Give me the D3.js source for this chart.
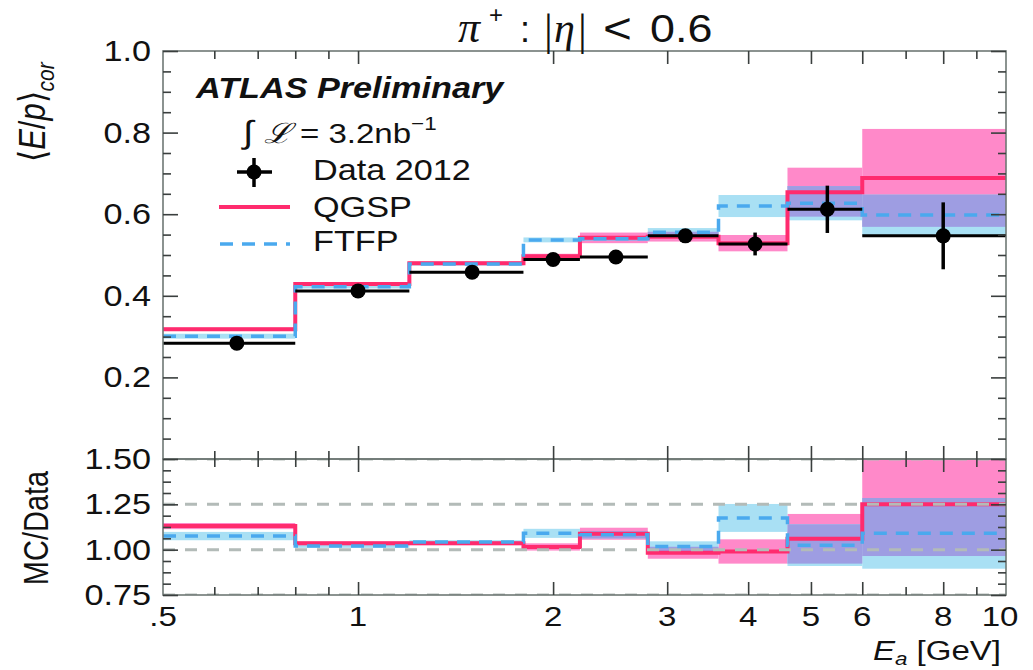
<!DOCTYPE html>
<html><head><meta charset="utf-8">
<script src="https://cdn.jsdelivr.net/npm/d3@7"></script>
<style>body{margin:0;background:#fff}svg{display:block}</style>
</head><body>
<svg id="c" width="1033" height="670"></svg>
<script>
// ---------- data ----------
const binEdges = [0.5, 0.8, 1.2, 1.8, 2.2, 2.8, 3.6, 4.6, 6, 10];
const dataX    = [0.65, 1.0, 1.5, 2.0, 2.5, 3.2, 4.1, 5.3, 8.0];
const dataY    = [0.284, 0.412, 0.458, 0.489, 0.495, 0.547, 0.527, 0.612, 0.547];
const dataErr  = [0.004, 0.004, 0.004, 0.004, 0.004, 0.006, 0.028, 0.058, 0.082];
const qgsp     = [0.318, 0.429, 0.480, 0.497, 0.542, 0.545, 0.529, 0.654, 0.689];
const qgspErr  = [0.004, 0.004, 0.004, 0.006, 0.013, 0.012, 0.020, 0.060, 0.120];
const ftfp     = [0.301, 0.422, 0.478, 0.537, 0.540, 0.556, 0.620, 0.627, 0.598];
const ftfpErr  = [0.006, 0.004, 0.004, 0.006, 0.005, 0.010, 0.027, 0.042, 0.050];
const qgspRatio    = [1.130, 1.035, 1.035, 1.015, 1.088, 0.983, 0.990, 1.060, 1.250];
const qgspRatioErr = [0.017, 0.010, 0.010, 0.020, 0.033, 0.033, 0.067, 0.137, 0.285];
const ftfpRatio    = [1.075, 1.020, 1.042, 1.090, 1.082, 1.018, 1.175, 1.025, 1.090];
const ftfpRatioErr = [0.023, 0.010, 0.010, 0.025, 0.020, 0.028, 0.077, 0.115, 0.195];
const xMajor = [1, 2, 3, 4, 5, 6, 8];
const xMinor = [0.6, 0.7, 0.8, 0.9, 7, 9];
const xLabels = [0.5, 1, 2, 3, 4, 5, 6, 8, 10];
const yMainTicks = [0.2, 0.4, 0.6, 0.8, 1.0];
const yRatioTicks = [0.75, 1.00, 1.25, 1.50];
const ratioRefs = [0.75, 1.0, 1.25, 1.5];

// ---------- styles ----------
const C = {pinkLine:'#ff2b6e', pinkFill:'#ff89c9', blueFill:'#a9e0f4', purple:'#9e9de2',
           blueLine:'#4aa9ee', gray:'#b3bbb8', frame:'#6f7875', tick:'#3a3f3e'};
const SX = 1.18;
const FONT = '"Liberation Sans", Arial, Helvetica, sans-serif';
const SERIF = '"Liberation Serif", "DejaVu Serif", serif';

const svg = d3.select('#c');
const L = 163, R = 1006, T = 51, M = 459, B = 595;
const x = d3.scaleLog().domain([0.5, 10]).range([L, R]);
const yMain = d3.scaleLinear().domain([0, 1]).range([M, T]);
const yRatio = d3.scaleLinear().domain([0.75, 1.5]).range([B, M]);

function txt(g, px, py, str, size, anchor, extra) {
  const t = g.append('text')
    .attr('transform', `translate(${px},${py}) scale(${SX},1)`)
    .attr('font-family', FONT).attr('font-size', size)
    .attr('text-anchor', anchor || 'start').attr('fill', '#111');
  if (str !== null) t.text(str);
  if (extra) extra(t);
  return t;
}

const defs = svg.append('defs');
defs.append('clipPath').attr('id', 'cm').append('rect').attr('x', L).attr('y', T).attr('width', R - L).attr('height', M - T);
defs.append('clipPath').attr('id', 'cr').append('rect').attr('x', L).attr('y', M).attr('width', R - L).attr('height', B - M);

function drawPanel(clipId, y, q, qe, f, fe, withData) {
  const g = svg.append('g').attr('clip-path', `url(#${clipId})`);
  const idx = d3.range(q.length);
  const bx = i => x(binEdges[i]), bw = i => x(binEdges[i + 1]) - x(binEdges[i]);
  g.selectAll('.qb').data(idx).join('rect')
    .attr('x', bx).attr('width', bw)
    .attr('y', i => y(q[i] + qe[i])).attr('height', i => y(q[i] - qe[i]) - y(q[i] + qe[i]))
    .attr('fill', C.pinkFill);
  g.selectAll('.fb').data(idx).join('rect')
    .attr('x', bx).attr('width', bw)
    .attr('y', i => y(f[i] + fe[i])).attr('height', i => y(f[i] - fe[i]) - y(f[i] + fe[i]))
    .attr('fill', C.blueFill);
  const ov = idx.map(i => ({i, lo: Math.max(q[i] - qe[i], f[i] - fe[i]), hi: Math.min(q[i] + qe[i], f[i] + fe[i])}))
    .filter(d => d.hi > d.lo);
  g.selectAll('.ob').data(ov).join('rect')
    .attr('x', d => bx(d.i)).attr('width', d => bw(d.i))
    .attr('y', d => y(d.hi)).attr('height', d => y(d.lo) - y(d.hi))
    .attr('fill', C.purple);
  const stepPts = v => v.flatMap((val, i) => [[binEdges[i], val], [binEdges[i + 1], val]]);
  const line = d3.line().x(d => x(d[0])).y(d => y(d[1]));
  g.append('path').attr('d', line(stepPts(q))).attr('fill', 'none')
    .attr('stroke', C.pinkLine).attr('stroke-width', 4);
  if (!withData) {
    g.selectAll('.ref').data(ratioRefs).join('line')
      .attr('x1', L).attr('x2', R).attr('y1', d => y(d)).attr('y2', d => y(d))
      .attr('stroke', C.gray).attr('stroke-width', 3).attr('stroke-dasharray', '12,10');
  }
  g.append('path').attr('d', line(stepPts(f))).attr('fill', 'none')
    .attr('stroke', C.blueLine).attr('stroke-width', 3.5).attr('stroke-dasharray', '13,9');
  if (withData) {
    g.selectAll('.dh').data(idx).join('line')
      .attr('x1', i => x(binEdges[i])).attr('x2', i => x(binEdges[i + 1]))
      .attr('y1', i => y(dataY[i])).attr('y2', i => y(dataY[i]))
      .attr('stroke', '#000').attr('stroke-width', 3);
    g.selectAll('.dv').data(idx).join('line')
      .attr('x1', i => x(dataX[i])).attr('x2', i => x(dataX[i]))
      .attr('y1', i => y(dataY[i] + dataErr[i])).attr('y2', i => y(dataY[i] - dataErr[i]))
      .attr('stroke', '#000').attr('stroke-width', 3.5);
    g.selectAll('.dc').data(idx).join('circle')
      .attr('cx', i => x(dataX[i])).attr('cy', i => y(dataY[i])).attr('r', 7.5).attr('fill', '#000');
  }
}

drawPanel('cm', yMain, qgsp, qgspErr, ftfp, ftfpErr, true);
drawPanel('cr', yRatio, qgspRatio, qgspRatioErr, ftfpRatio, ftfpRatioErr, false);

// ---------- frames ----------
[[T, M], [M, B]].forEach(([a, b]) => {
  svg.append('rect').attr('x', L).attr('y', a).attr('width', R - L).attr('height', b - a)
    .attr('fill', 'none').attr('stroke', C.frame).attr('stroke-width', 1.6);
});

// ---------- ticks ----------
function ticks(axisFn, scale, vals, size, tr) {
  const g = svg.append('g').attr('transform', tr)
    .call(axisFn(scale).tickValues(vals).tickSize(size).tickFormat(''));
  g.select('.domain').remove();
  g.selectAll('line').attr('stroke', C.tick).attr('stroke-width', 1.6);
}
[[d3.axisTop, T], [d3.axisBottom, M], [d3.axisTop, M], [d3.axisBottom, B]].forEach(([fn, yy]) => {
  ticks(fn, x, xMajor, -13, `translate(0,${yy})`);
  ticks(fn, x, xMinor, -8, `translate(0,${yy})`);
});
const mainMinor = d3.range(0.05, 1.0, 0.05).filter(v => Math.abs(v * 5 - Math.round(v * 5)) > 1e-6);
const ratioMinor = d3.range(0.8125, 1.5, 0.0625).filter(v => Math.abs(v * 4 - Math.round(v * 4)) > 1e-6);
ticks(d3.axisLeft, yMain, yMainTicks, -15, `translate(${L},0)`);
ticks(d3.axisLeft, yMain, mainMinor, -8, `translate(${L},0)`);
ticks(d3.axisRight, yMain, yMainTicks, -15, `translate(${R},0)`);
ticks(d3.axisRight, yMain, mainMinor, -8, `translate(${R},0)`);
ticks(d3.axisLeft, yRatio, yRatioTicks, -15, `translate(${L},0)`);
ticks(d3.axisLeft, yRatio, ratioMinor, -8, `translate(${L},0)`);
ticks(d3.axisRight, yRatio, yRatioTicks, -15, `translate(${R},0)`);
ticks(d3.axisRight, yRatio, ratioMinor, -8, `translate(${R},0)`);

// ---------- tick labels ----------
yMainTicks.forEach(v => txt(svg, 151, yMain(v) + 10, d3.format('.1f')(v), 29, 'end'));
yRatioTicks.forEach(v => txt(svg, 151, yRatio(v) + 10, d3.format('.2f')(v), 29, 'end'));
xLabels.forEach(v => txt(svg, x(v) - (v === 10 ? 6 : 0), 626, v === 0.5 ? '.5' : String(v), 28, 'middle'));

// ---------- axis titles ----------
svg.append('text')
  .attr('transform', `translate(1001,660) scale(${SX},1)`)
  .attr('font-family', FONT).attr('font-size', 28).attr('text-anchor', 'end').attr('fill', '#111')
  .call(t => {
    t.append('tspan').attr('font-style', 'italic').text('E');
    t.append('tspan').attr('font-style', 'italic').attr('font-size', 19).attr('dy', 5).text('a');
    t.append('tspan').attr('dy', -5).text(' [GeV]');
  });
svg.append('text')
  .attr('transform', `translate(48,528) scale(${SX},1) rotate(-90)`)
  .attr('font-family', FONT).attr('font-size', 29).attr('text-anchor', 'middle').attr('fill', '#111')
  .text('MC/Data');
svg.append('text')
  .attr('transform', `translate(45,112) scale(${SX},1) rotate(-90)`)
  .attr('font-family', FONT).attr('font-size', 31).attr('text-anchor', 'middle').attr('fill', '#111')
  .call(t => {
    t.append('tspan').text('⟨');
    t.append('tspan').attr('font-style', 'italic').text('E');
    t.append('tspan').text('/');
    t.append('tspan').attr('font-style', 'italic').text('p');
    t.append('tspan').text('⟩');
    t.append('tspan').attr('font-style', 'italic').attr('font-size', 21).attr('dy', 8).text('cor');
  });

// ---------- title ----------
const tg = svg.append('g').attr('fill', '#111');
const tpart = (px, py, s, size, fam, italic) => tg.append('text')
  .attr('x', px).attr('y', py).attr('font-size', size).attr('font-family', fam)
  .attr('font-style', italic ? 'italic' : 'normal').text(s);
tpart(458, 42, 'π', 44, SERIF, true);
tpart(489, 23, '+', 24, FONT, false);
tpart(520, 42, ':', 36, FONT, false);
tpart(544, 45, '|', 44, SERIF, false);
tpart(554, 42, 'η', 42, SERIF, true);
tpart(578, 45, '|', 44, SERIF, false);
txt(tg, 603, 43, '<', 42);
txt(tg, 650, 42, '0.6', 38);

// ---------- labels & legend ----------
txt(svg, 196, 98, 'ATLAS Preliminary', 29, 'start', t => t.attr('font-weight', 'bold').attr('font-style', 'italic'));
txt(svg, 243, 143, null, 28, 'start', t => {
  t.append('tspan').attr('font-size', 32).text('∫ ');
  t.append('tspan').attr('font-family', SERIF).attr('font-style', 'italic').text('ℒ');
  t.append('tspan').text(' = 3.2nb');
  t.append('tspan').attr('font-size', 19).attr('dy', -13).text('−1');
});
const lg = svg.append('g');
lg.append('line').attr('x1', 237).attr('x2', 272).attr('y1', 172).attr('y2', 172).attr('stroke', '#000').attr('stroke-width', 3.5);
lg.append('line').attr('x1', 254).attr('x2', 254).attr('y1', 158).attr('y2', 187).attr('stroke', '#000').attr('stroke-width', 3.5);
lg.append('circle').attr('cx', 254).attr('cy', 172).attr('r', 7.5).attr('fill', '#000');
lg.append('line').attr('x1', 219).attr('x2', 290).attr('y1', 207).attr('y2', 207).attr('stroke', C.pinkLine).attr('stroke-width', 4);
lg.append('line').attr('x1', 220).attr('x2', 290).attr('y1', 244).attr('y2', 244).attr('stroke', C.blueLine).attr('stroke-width', 3.5).attr('stroke-dasharray', '13,9');
txt(svg, 313, 180, 'Data 2012', 29);
txt(svg, 313, 217, 'QGSP', 29);
txt(svg, 313, 251, 'FTFP', 29);
</script>
</body></html>
